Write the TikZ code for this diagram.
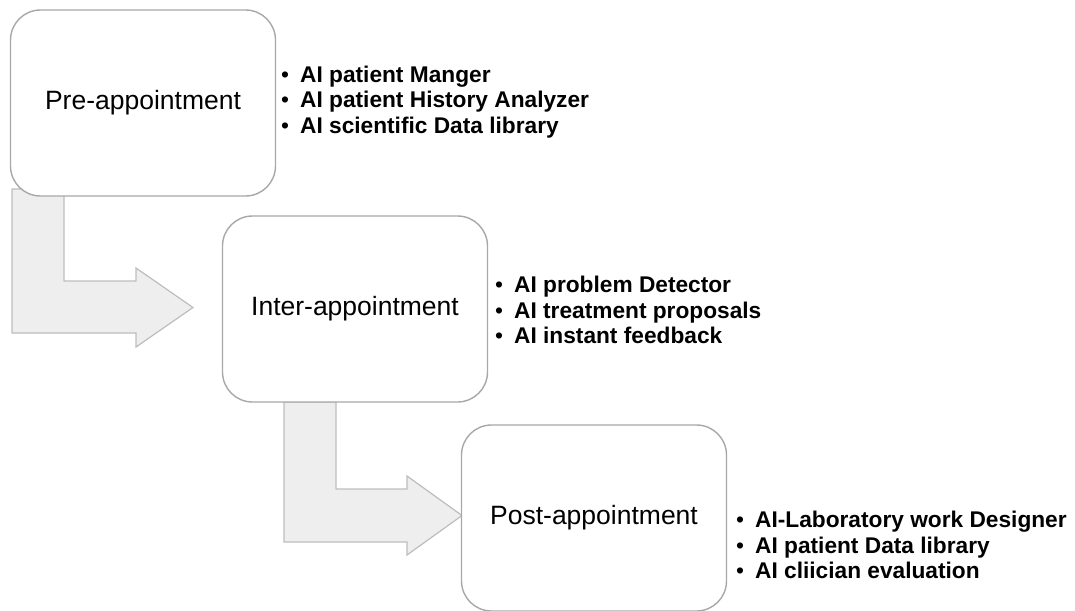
\documentclass[tikz,border=0pt]{standalone}
\usepackage{fontspec}
\setmainfont{Liberation Sans}
\usetikzlibrary{calc}
\definecolor{boxline}{HTML}{A8A8A8}
\definecolor{arrowfill}{HTML}{EEEEEE}
\definecolor{arrowline}{HTML}{BDBDBD}
\newcommand{\toolitem}{{\mdseries•}\hspace{11pt}}
\begin{document}
\begin{tikzpicture}[x=1pt,y=-1pt,
  stage/.style={draw=boxline, line width=1.4pt, fill=white, rounded corners=30pt,
    minimum width=265pt, minimum height=186pt, inner sep=0pt,
    font=\fontsize{26.5}{30}\selectfont},
  tools/.style={anchor=west, align=left, inner sep=0pt,
    font=\fontsize{22.7}{25.8}\selectfont\bfseries},
  bent/.style={draw=arrowline, line width=1.2pt, fill=arrowfill, line join=miter}]
\useasboundingbox (0,0) rectangle (1075,610);

% bent arrows (drawn first, so the boxes cover their stems)
\draw[bent] (12,189) -- (64,189) -- (64,281) -- (136,281) -- (136,268)
  -- (193,307.5) -- (136,347) -- (136,333) -- (12,333) -- cycle;
\draw[bent] (284,402) -- (336,402) -- (336,489) -- (407,489) -- (407,476)
  -- (462,515.5) -- (407,555) -- (407,542) -- (284,542) -- cycle;

% stages
\node[stage] (pre) at (143,103) {Pre-appointment};
\node[stage] (inter) at (355,309) {Inter-appointment};
\node[stage] (post) at (594,518) {Post-appointment};

% AI tools per stage
\node[tools] (pretools) at (281,102) {\toolitem AI patient Manger\\
  \toolitem AI patient History Analyzer\\
  \toolitem AI scientific Data library};
\node[tools] (intertools) at (495,310) {\toolitem AI problem Detector\\
  \toolitem AI treatment proposals\\
  \toolitem AI instant feedback};
\node[tools] (posttools) at (736,545) {\toolitem AI-Laboratory work Designer\\
  \toolitem AI patient Data library\\
  \toolitem AI cliician evaluation};
\end{tikzpicture}
\end{document}
